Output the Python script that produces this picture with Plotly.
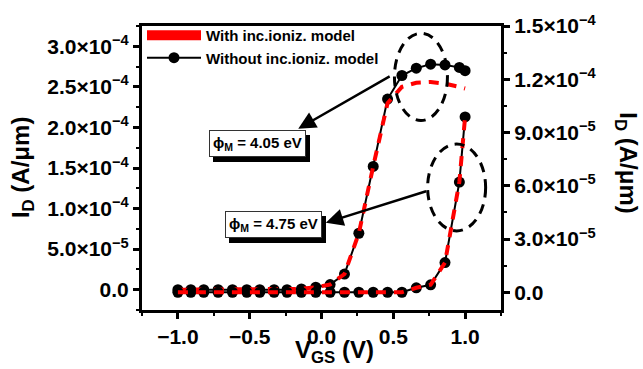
import plotly.graph_objects as go

# ---------------- data ----------------
vgs = [-1.0, -0.91, -0.82, -0.72, -0.62, -0.52, -0.43, -0.33, -0.24, -0.14, -0.04,
       0.06, 0.16, 0.26, 0.36, 0.46, 0.56, 0.66, 0.76, 0.86, 0.96, 1.0]

# phi_M = 4.05 eV (left axis)
id405_without = [0, 0, 0, 0, 0, 0, 0, 0, 0, 1.0e-6, 3.1e-6,
                 6.4e-6, 1.93e-5, 6.96e-5, 1.52e-4, 2.35e-4, 2.64e-4, 2.73e-4, 2.78e-4, 2.77e-4, 2.74e-4, 2.70e-4]
id405_with = [0, 0, 0, 0, 0, 0, 0, 0, 0, 1.0e-6, 3.1e-6,
              6.4e-6, 1.93e-5, 6.96e-5, 1.52e-4, 2.30e-4, 2.50e-4, 2.55e-4, 2.56e-4, 2.54e-4, 2.50e-4, 2.48e-4]

# phi_M = 4.75 eV (right axis)
id475_without = [0, 0, 0, 0, 0, 0, 0, 0, 0, 0, 0,
                 0, 0, 0, 0, 0, 0, 2.5e-6, 4.2e-6, 1.67e-5, 6.21e-5, 9.88e-5]
id475_with = id475_without

x_ticks = [-1.0, -0.5, 0.0, 0.5, 1.0]
x_ticktext = ["\u22121.0", "\u22120.5", "0.0", "0.5", "1.0"]
yl_ticks = [0, 5e-5, 1e-4, 1.5e-4, 2e-4, 2.5e-4, 3e-4]
yl_ticktext = ["0.0", "5.0×10<sup>\u22125</sup>", "1.0×10<sup>\u22124</sup>", "1.5×10<sup>\u22124</sup>",
               "2.0×10<sup>\u22124</sup>", "2.5×10<sup>\u22124</sup>", "3.0×10<sup>\u22124</sup>"]
yr_ticks = [0, 3e-5, 6e-5, 9e-5, 1.2e-4, 1.5e-4]
yr_ticktext = ["0.0", "3.0×10<sup>\u22125</sup>", "6.0×10<sup>\u22125</sup>", "9.0×10<sup>\u22125</sup>",
               "1.2×10<sup>\u22124</sup>", "1.5×10<sup>\u22124</sup>"]

FONT = "Liberation Sans, Arial, sans-serif"
RED = "#ff0000"

fig = go.Figure()

# black curves with markers
fig.add_trace(go.Scatter(x=vgs, y=id405_without, mode="lines+markers", name="Without inc.ioniz. model",
                         line=dict(color="black", width=2), marker=dict(color="black", size=11),
                         legendrank=2, yaxis="y"))
fig.add_trace(go.Scatter(x=vgs, y=id475_without, mode="lines+markers", showlegend=False,
                         line=dict(color="black", width=2), marker=dict(color="black", size=11),
                         yaxis="y2"))
# red dashed curves
fig.add_trace(go.Scatter(x=vgs, y=id405_with, mode="lines", showlegend=False,
                         line=dict(color=RED, width=4, dash="10px,8px"), yaxis="y"))
fig.add_trace(go.Scatter(x=vgs, y=id475_with, mode="lines", showlegend=False,
                         line=dict(color=RED, width=4, dash="10px,8px"), yaxis="y2"))
# legend entry (red block)
fig.add_trace(go.Scatter(x=[None], y=[None], mode="lines", name="With inc.ioniz. model",
                         line=dict(color=RED, width=12), legendrank=1, yaxis="y"))

axis_common = dict(showline=True, linecolor="black", linewidth=3, ticks="outside", ticklen=6,
                   tickwidth=2.5, tickcolor="black", showgrid=False, zeroline=False,
                   tickfont=dict(family=FONT, size=21, color="black", weight="bold"))

fig.update_layout(
    width=643, height=369,
    margin=dict(l=142, r=142, t=20, b=59),
    paper_bgcolor="white", plot_bgcolor="white",
    showlegend=True,
    legend=dict(x=0.0, y=1.025, xanchor="left", yanchor="top", bgcolor="rgba(0,0,0,0)",
                font=dict(family=FONT, size=15, color="black", weight="bold"),
                itemwidth=54, tracegroupgap=0),
    xaxis=dict(range=[-1.25, 1.25], tickmode="array", tickvals=x_ticks, ticktext=x_ticktext,
               mirror=True,
               minor=dict(tickmode="linear", tick0=-1.25, dtick=0.25, ticks="outside", ticklen=3,
                          tickwidth=2, tickcolor="black"),
               **axis_common),
    yaxis=dict(range=[-2.5e-5, 3.25e-4], tickmode="array", tickvals=yl_ticks, ticktext=yl_ticktext,
               minor=dict(tickmode="linear", tick0=0, dtick=2.5e-5, ticks="outside", ticklen=3,
                          tickwidth=2, tickcolor="black"),
               **axis_common),
    yaxis2=dict(range=[-1.0e-5, 1.5e-4], overlaying="y", side="right", tickmode="array",
                tickvals=yr_ticks, ticktext=yr_ticktext,
                minor=dict(tickmode="linear", tick0=0, dtick=1.5e-5, ticks="outside", ticklen=3,
                           tickwidth=2, tickcolor="black"),
                **axis_common),
)

# dashed ellipses
ell = dict(type="circle", xref="x", yref="y", line=dict(color="black", width=3, dash="10px,7px"),
           fillcolor="rgba(0,0,0,0)", layer="above")
fig.add_shape(x0=0.508, x1=0.877, y0=2.085e-4, y1=3.16e-4, **ell)
fig.add_shape(x0=0.739, x1=1.143, y0=7.25e-5, y1=1.795e-4, **ell)

# arrows
arr = dict(xref="x", yref="y", axref="x", ayref="y", text="", showarrow=True,
           arrowhead=2, arrowsize=1.4, arrowwidth=2.5, arrowcolor="black", standoff=0)
fig.add_annotation(x=-0.162, y=1.984e-4, ax=0.485, ay=2.64e-4, **arr)
fig.add_annotation(x=0.03, y=8.25e-5, ax=0.739, ay=1.22e-4, **arr)

# labelled boxes with shadow
def box(xv, yv, label):
    txt = "ϕ<sub>M</sub> = " + label
    fnt = dict(family=FONT, size=15, weight="bold")
    fig.add_annotation(x=xv, y=yv, xref="x", yref="y", text=txt, showarrow=False,
                       font=dict(color="black", **fnt), bgcolor="black", bordercolor="black",
                       borderwidth=1, borderpad=3, xshift=4, yshift=-5)
    fig.add_annotation(x=xv, y=yv, xref="x", yref="y", text=txt, showarrow=False,
                       font=dict(color="black", **fnt), bgcolor="white", bordercolor="#333333",
                       borderwidth=1, borderpad=3)

box(-0.447, 1.803e-4, "4.05 eV")
box(-0.337, 8.0e-5, "4.75 eV")

# axis titles
tfont = dict(family=FONT, size=24, color="black", weight="bold")
fig.add_annotation(xref="paper", yref="paper", x=-0.334, y=0.5, text="I<sub>D</sub> (A/μm)",
                   textangle=-90, showarrow=False, font=tfont, xanchor="center", yanchor="middle")
fig.add_annotation(xref="paper", yref="paper", x=1.351, y=0.52, text="I<sub>D</sub> (A/μm)",
                   textangle=90, showarrow=False, font=tfont, xanchor="center", yanchor="middle")
fig.add_annotation(xref="paper", yref="paper", x=0.535, y=-0.145, text="V<sub>GS</sub> (V)",
                   showarrow=False, font=tfont, xanchor="center", yanchor="middle")

fig.write_html("out.html")
